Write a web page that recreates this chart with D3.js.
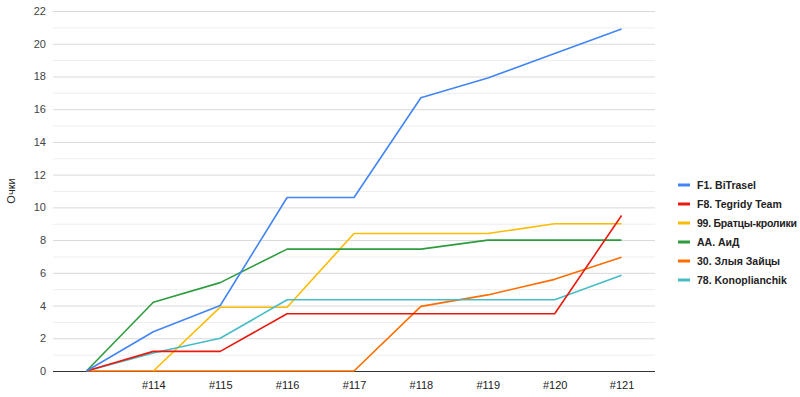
<!DOCTYPE html>
<html>
<head>
<meta charset="utf-8">
<script src="https://cdn.jsdelivr.net/npm/d3@7"></script>
<style>
  body { margin: 0; background: #fff; }
  svg { font-family: "Liberation Sans", Arial, sans-serif; }
</style>
</head>
<body>
<div id="chart"></div>
<script>
// categories (first round has no label)
var rounds = ["", "#114", "#115", "#116", "#117", "#118", "#119", "#120", "#121"];
var teamNames = ["F1. BiTrasel", "F8. Tegridy Team", "99. Братцы-кролики", "AA. АиД", "30. Злыя Зайцы", "78. Konoplianchik"];
var teamColors = ["#4285f4", "#e8190f", "#fbbc04", "#2e9c3e", "#ff6d01", "#46bdc6"];

var bitrasel = [0, 2.4, 4.0, 10.6, 10.6, 16.7, 17.9, 19.4, 20.9];
var tegridy = [0, 1.2, 1.2, 3.5, 3.5, 3.5, 3.5, 3.5, 9.5];
var bratcy = [null, 0, 3.9, 3.9, 8.4, 8.4, 8.4, 9.0, 9.0];
var aid = [0, 4.2, 5.4, 7.45, 7.45, 7.45, 8.0, 8.0, 8.0];
var zaycy = [0, 0, 0, 0, 0, 3.95, 4.65, 5.6, 6.95];
var konop = [0, 1.1, 2.0, 4.35, 4.35, 4.35, 4.35, 4.35, 5.85];

var yTicks = [0, 2, 4, 6, 8, 10, 12, 14, 16, 18, 20, 22];
var yLabel = "Очки";

var seriesData = [bitrasel, tegridy, bratcy, aid, zaycy, konop];
// draw order: orange first, blue last
var drawOrder = [4, 2, 3, 5, 1, 0];

var W = 800, H = 397;
var svg = d3.select("#chart").append("svg").attr("width", W).attr("height", H);

var margin = {top: 11, right: 145, bottom: 26, left: 53};
var width = W - margin.left - margin.right,
    height = H - margin.top - margin.bottom;

var g = svg.append("g").attr("transform", "translate(" + margin.left + "," + margin.top + ")");

var x = d3.scalePoint().domain(d3.range(rounds.length)).range([0, width]).padding(0.5);
var y = d3.scaleLinear().domain([0, 22]).range([height, 0]);

// minor grid lines
g.append("g").selectAll("line")
    .data(d3.range(1, 22, 2))
    .enter().append("line")
    .attr("x1", 0).attr("x2", width)
    .attr("y1", function (d) { return y(d) + 0.5; })
    .attr("y2", function (d) { return y(d) + 0.5; })
    .attr("stroke", "#eeeeee");

// major grid + tick labels
var yAxis = g.append("g")
    .call(d3.axisLeft(y).tickValues(yTicks).tickSize(-width).tickPadding(7));
yAxis.select(".domain").remove();
yAxis.selectAll(".tick line").attr("stroke", function (d) { return d === 0 ? "#333" : "#d9d9d9"; });
yAxis.selectAll(".tick text").attr("fill", "#444").style("font-size", "11px");

// x labels
var xAxis = g.append("g")
    .attr("transform", "translate(0," + height + ")")
    .call(d3.axisBottom(x).tickSize(0).tickPadding(10).tickFormat(function (i) { return rounds[i]; }));
xAxis.select(".domain").remove();
xAxis.selectAll("text").attr("fill", "#222").style("font-size", "11px");

svg.append("text")
    .attr("transform", "translate(15," + (margin.top + height / 2) + ") rotate(-90)")
    .attr("text-anchor", "middle")
    .attr("fill", "#222")
    .style("font-size", "11px")
    .text(yLabel);

var line = d3.line()
    .defined(function (d) { return d != null; })
    .x(function (d, i) { return x(i); })
    .y(function (d) { return y(d); });

drawOrder.forEach(function (k) {
    g.append("path")
        .datum(seriesData[k])
        .attr("fill", "none")
        .attr("stroke", teamColors[k])
        .attr("stroke-width", 1.6)
        .attr("stroke-linejoin", "round")
        .attr("d", line);
});

// legend
var legend = svg.append("g").attr("transform", "translate(678,185)");
var item = legend.selectAll("g")
    .data(teamNames)
    .enter().append("g")
    .attr("transform", function (d, i) { return "translate(0," + (i * 19) + ")"; });
item.append("rect")
    .attr("x", 0).attr("y", -1.5).attr("width", 12).attr("height", 3)
    .attr("fill", function (d, i) { return teamColors[i]; });
item.append("text")
    .attr("x", 19).attr("y", 4)
    .attr("fill", "#222")
    .style("font-size", "10.5px")
    .style("font-weight", "bold")
    .attr("textLength", function (d, i) { return i === 2 ? 100 : null; })
    .text(function (d) { return d; });
</script>
</body>
</html>
